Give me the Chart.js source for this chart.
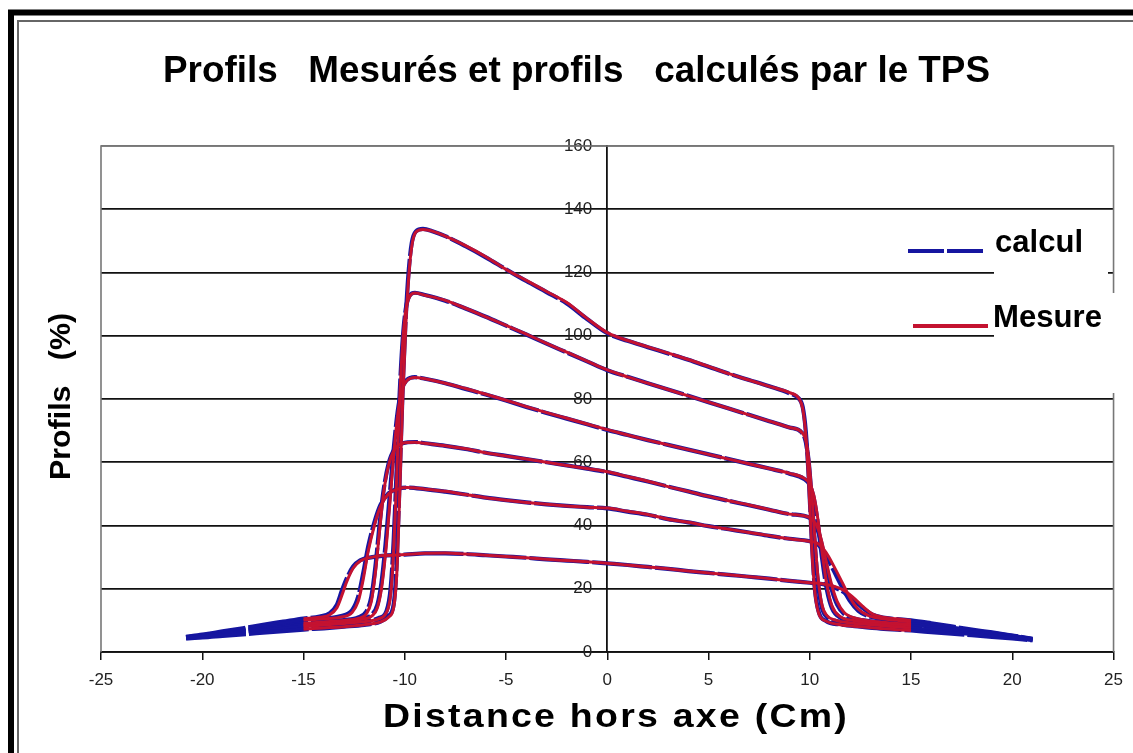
<!DOCTYPE html>
<html lang="fr">
<head>
<meta charset="utf-8">
<title>Profils mesurés et profils calculés par le TPS</title>
<script src="https://cdn.jsdelivr.net/npm/chart.js@4.4.1/dist/chart.umd.min.js"></script>
<style>
  html, body { margin: 0; padding: 0; background: #fff; }
  canvas { display: block; }
</style>
</head>
<body>
<canvas id="chart" width="1133" height="753"></canvas>
<script>
// Profils de dose (%) en fonction de la distance hors axe (cm), six profondeurs.
// Chaque point : [distance hors axe, profil].

// --- Mesures ---
const mesure1 = [[-15,7.2],[-14,7.6],[-13,8],[-12,8.6],[-11.2,9.5],[-10.8,11],[-10.55,14],[-10.4,24],[-10.25,50],[-10.1,80],[-9.95,103],[-9.8,119],[-9.65,128.5],[-9.45,132.8],[-9.1,133.6],[-8.6,133],[-8,131.5],[-7,128.5],[-6,125],[-5,121],[-4,117.5],[-3,114],[-2,110.5],[-1,105.5],[0,101],[1,98.5],[2,96.5],[3,94.5],[4,92.5],[5,90.3],[6,88],[7,86],[8,84],[9,82],[9.45,80.3],[9.65,77],[9.8,69],[9.95,53],[10.1,33],[10.25,19],[10.45,12],[10.8,9.8],[11.5,8.6],[12.5,8],[13.5,7.4],[15,6.8]];
const mesure2 = [[-15,8],[-14,8.5],[-13,9],[-12,9.6],[-11.3,10.5],[-10.9,12.5],[-10.7,18],[-10.55,32],[-10.4,55],[-10.25,80],[-10.1,98],[-9.95,108],[-9.75,112.5],[-9.5,113.5],[-9,112.8],[-8,111.2],[-7,108.7],[-6,106],[-5,103.3],[-4,100.5],[-3,97.6],[-2,94.8],[-1,92],[0,89.2],[1,87],[2,85],[3,83],[4,81],[5,79],[6,77],[7,75],[8,73],[9,71],[9.6,69.5],[9.8,67],[9.95,61],[10.1,50],[10.25,36],[10.4,24],[10.6,15],[10.85,11.5],[11.3,10],[12,9.2],[13,8.6],[14,8.1],[15,7.6]];
const mesure3 = [[-15,8.5],[-14,9],[-13,9.6],[-12.2,10.3],[-11.6,11.5],[-11.35,14],[-11.15,20],[-10.95,31],[-10.75,46],[-10.55,62],[-10.35,75],[-10.15,82.5],[-9.9,85.8],[-9.5,86.8],[-9,86.4],[-8,85],[-7,83.3],[-6,81.5],[-5,79.6],[-4,77.6],[-3,75.7],[-2,73.9],[-1,72.1],[0,70.3],[1,68.6],[2,67],[3,65.5],[4,64],[5,62.5],[6,61],[7,59.5],[8,58],[9,56.5],[9.7,55],[10,53.2],[10.2,49.5],[10.4,42],[10.6,32],[10.85,21],[11.1,14.5],[11.5,11.2],[12.2,9.9],[13,9.2],[14,8.7],[15,8.3]];
const mesure4 = [[-15,9],[-14,9.5],[-13,10],[-12.3,10.6],[-11.9,12],[-11.65,16],[-11.45,25],[-11.25,38],[-11.05,50],[-10.8,59],[-10.5,64],[-10.1,66],[-9.5,66.3],[-9,66],[-8,65.2],[-7,64.3],[-6,63],[-5,62],[-4,61],[-3,60],[-2,59],[-1,58],[0,57],[1,55.5],[2,54],[3,52.3],[4,50.8],[5,49.2],[6,47.8],[7,46.5],[8,45],[9,43.6],[10,42.5],[10.3,40.5],[10.55,36],[10.8,29],[11.05,22],[11.35,16],[11.7,12.5],[12.3,10.6],[13,9.8],[14,9.2],[15,8.8]];
const mesure5 = [[-15,10],[-14,10.5],[-13.2,11],[-12.6,12.5],[-12.3,16],[-12.05,23],[-11.8,32],[-11.5,40],[-11.2,46],[-10.8,50],[-10.3,51.6],[-9.9,52],[-9,51.5],[-8,50.8],[-7,49.8],[-6,48.8],[-5,48],[-4,47.3],[-3,46.7],[-2,46.2],[-1,45.8],[0,45.5],[1,44.5],[2,43.5],[3,42],[4,41],[5,39.8],[6,38.8],[7,37.8],[8,36.8],[9,35.8],[10,35],[10.4,34.3],[10.8,31.5],[11.2,27],[11.6,22],[12,17],[12.4,13.5],[12.9,11.5],[13.6,10.5],[14.3,10],[15,9.5]];
const mesure6 = [[-15,10.5],[-14.2,11],[-13.7,11.8],[-13.35,14],[-13.1,18],[-12.85,22.5],[-12.55,26.5],[-12.2,28.8],[-11.6,30],[-11,30.5],[-10,30.8],[-9,31.2],[-8,31.3],[-7,31],[-6,30.6],[-5,30.2],[-4,29.8],[-3,29.3],[-2,28.9],[-1,28.5],[0,28.1],[1,27.5],[2,26.9],[3,26.3],[4,25.6],[5,25],[6,24.4],[7,23.8],[8,23.2],[9,22.5],[10,21.9],[10.6,21.6],[11.1,21],[11.6,19.8],[12.1,17.5],[12.6,14.5],[13.1,12],[13.6,11],[14.3,10.5],[15,10]];

// --- Calculs du TPS ---
const calcul1 = [[-20.8,4.3],[-20,4.6],[-19,5.1],[-18,5.6],[-17,6.1],[-16,6.6],[-15,7.1],[-14,7.5],[-13,8],[-12,8.6],[-11.2,9.6],[-10.8,11.5],[-10.55,15],[-10.4,28],[-10.25,55],[-10.1,84],[-9.95,106],[-9.8,121],[-9.65,129.5],[-9.45,133],[-9.1,133.8],[-8.6,133],[-8,131.5],[-7,128.3],[-6,124.8],[-5,121],[-4,117.3],[-3,113.8],[-2,110.2],[-1,105.3],[0,100.8],[1,98.4],[2,96.4],[3,94.4],[4,92.4],[5,90.2],[6,88],[7,86],[8,84],[9,81.8],[9.45,80.2],[9.65,77.5],[9.8,70],[9.95,55],[10.1,35],[10.25,20],[10.45,12.5],[10.8,9.8],[11.5,8.7],[12.5,8],[13.5,7.4],[15,6.8],[16,6.3],[17,5.8],[18,5.3],[19,4.8],[20,4.3],[21,3.7]];
const calcul2 = [[-20.8,4.4],[-20,4.8],[-19,5.4],[-18,6],[-17,6.7],[-16,7.3],[-15,8],[-14,8.5],[-13,9],[-12,9.7],[-11.3,10.7],[-10.9,13],[-10.7,20],[-10.55,35],[-10.4,58],[-10.25,82],[-10.1,99],[-9.95,108.5],[-9.75,112.8],[-9.5,113.6],[-9,112.9],[-8,111.1],[-7,108.6],[-6,106],[-5,103.2],[-4,100.4],[-3,97.5],[-2,94.7],[-1,91.9],[0,89.1],[1,87],[2,85],[3,83],[4,81],[5,79],[6,77],[7,75],[8,73],[9,71],[9.6,69.4],[9.8,66.5],[9.95,60],[10.1,48],[10.25,34],[10.4,22],[10.6,14],[10.85,11],[11.3,9.8],[12,9.1],[13,8.5],[14,8],[15,7.5],[16,6.9],[17,6.3],[18,5.7],[19,5.1],[20,4.5],[21,3.8]];
const calcul3 = [[-20.8,4.5],[-20,5],[-19,5.7],[-18,6.4],[-17,7.1],[-16,7.8],[-15,8.5],[-14,9],[-13,9.7],[-12.2,10.5],[-11.6,12],[-11.35,15],[-11.15,22],[-10.95,34],[-10.75,49],[-10.55,64],[-10.35,76],[-10.15,83],[-9.9,86],[-9.5,86.9],[-9,86.4],[-8,85],[-7,83.2],[-6,81.4],[-5,79.5],[-4,77.5],[-3,75.6],[-2,73.8],[-1,72],[0,70.2],[1,68.6],[2,67],[3,65.5],[4,64],[5,62.5],[6,61],[7,59.5],[8,58],[9,56.4],[9.7,54.8],[10,52.8],[10.2,48.5],[10.4,40.5],[10.6,30],[10.85,19.5],[11.1,13.8],[11.5,10.9],[12.2,9.8],[13,9.1],[14,8.6],[15,8.2],[16,7.5],[17,6.8],[18,6.1],[19,5.4],[20,4.7],[21,3.9]];
const calcul4 = [[-20.8,4.6],[-20,5.1],[-19,5.9],[-18,6.7],[-17,7.5],[-16,8.2],[-15,9],[-14,9.5],[-13,10.1],[-12.3,10.9],[-11.9,12.8],[-11.65,17.5],[-11.45,27],[-11.25,40],[-11.05,51],[-10.8,59.5],[-10.5,64.2],[-10.1,66],[-9.5,66.4],[-9,66],[-8,65.2],[-7,64.2],[-6,63],[-5,62],[-4,61],[-3,60],[-2,59],[-1,58],[0,56.9],[1,55.4],[2,53.9],[3,52.3],[4,50.8],[5,49.2],[6,47.8],[7,46.4],[8,45],[9,43.6],[10,42.4],[10.3,40],[10.55,35],[10.8,27.5],[11.05,20.5],[11.35,15],[11.7,12],[12.3,10.4],[13,9.7],[14,9.1],[15,8.8],[16,8],[17,7.2],[18,6.5],[19,5.7],[20,4.9],[21,4]];
const calcul5 = [[-20.8,4.7],[-20,5.3],[-19,6.2],[-18,7.1],[-17,8],[-16,9],[-15,10],[-14,10.6],[-13.2,11.3],[-12.6,13.2],[-12.3,17.5],[-12.05,25],[-11.8,33.5],[-11.5,41],[-11.2,46.5],[-10.8,50.2],[-10.3,51.7],[-9.9,52],[-9,51.5],[-8,50.7],[-7,49.8],[-6,48.8],[-5,48],[-4,47.3],[-3,46.7],[-2,46.2],[-1,45.8],[0,45.4],[1,44.4],[2,43.4],[3,42],[4,41],[5,39.8],[6,38.8],[7,37.8],[8,36.7],[9,35.8],[10,35],[10.4,34],[10.8,30.5],[11.2,25.5],[11.6,20.5],[12,16],[12.4,13],[12.9,11.3],[13.6,10.4],[14.3,9.9],[15,9.5],[16,8.6],[17,7.7],[18,6.8],[19,6],[20,5.1],[21,4.1]];
const calcul6 = [[-20.8,4.8],[-20,5.5],[-19,6.5],[-18,7.5],[-17,8.6],[-16,9.6],[-15,10.6],[-14.2,11.2],[-13.7,12.3],[-13.35,15],[-13.1,19.5],[-12.85,23.5],[-12.55,27],[-12.2,29],[-11.6,30],[-11,30.5],[-10,30.8],[-9,31.2],[-8,31.2],[-7,31],[-6,30.6],[-5,30.2],[-4,29.8],[-3,29.3],[-2,28.9],[-1,28.5],[0,28],[1,27.5],[2,26.9],[3,26.3],[4,25.6],[5,25],[6,24.4],[7,23.8],[8,23.2],[9,22.5],[10,21.9],[10.6,21.5],[11.1,20.7],[11.6,19.2],[12.1,16.8],[12.6,14],[13.1,11.8],[13.6,10.9],[14.3,10.4],[15,10],[16,9.1],[17,8.1],[18,7.1],[19,6.2],[20,5.2],[21,4.2]];

// --- Axes ---
const xTickValues = [-25, -20, -15, -10, -5, 0, 5, 10, 15, 20, 25];
const yTickValues = [0, 20, 40, 60, 80, 100, 120, 140, 160];
const legendLabels = ['calcul', 'Mesure'];

const colCalcul = '#1616a0';
const colMesure = '#c41230';
const FONT = "'Liberation Sans', Arial, Helvetica, sans-serif";

const mesures = [mesure1, mesure2, mesure3, mesure4, mesure5, mesure6];
const calculs = [calcul1, calcul2, calcul3, calcul4, calcul5, calcul6];

const datasets = [];
calculs.forEach((d, i) => datasets.push({
  label: 'calcul ' + (i + 1), data: d, borderColor: colCalcul, borderWidth: 4.2,
  borderDash: [60, 3], pointRadius: 0, order: 2, cubicInterpolationMode: 'monotone'
}));
mesures.forEach((d, i) => datasets.push({
  label: 'Mesure ' + (i + 1), data: d, borderColor: colMesure, borderWidth: 3,
  pointRadius: 0, order: 1, cubicInterpolationMode: 'monotone'
}));

// Horizontal-fit text helper (the chart text is narrow)
function fitText(ctx, text, x, y, width, font, align, spacing) {
  ctx.save();
  ctx.font = font;
  if (spacing && 'letterSpacing' in ctx) ctx.letterSpacing = spacing;
  const w = ctx.measureText(text).width;
  ctx.translate(x, y);
  ctx.scale(width / w, 1);
  ctx.textAlign = align;
  ctx.textBaseline = 'alphabetic';
  ctx.fillStyle = '#000';
  ctx.fillText(text, 0, 0);
  ctx.restore();
}

const decor = {
  id: 'decor',
  beforeDraw(chart) {
    const ctx = chart.ctx;
    // y labels sit a little left of the centred axis
    const items = chart.scales.y.getLabelItems(chart.chartArea);
    if (!items._moved) {
      items.forEach(it => { it.options.translation[0] -= 15; });
      items._moved = true;
    }
    ctx.save();
    ctx.fillStyle = '#fff';
    ctx.fillRect(0, 0, chart.width, chart.height);
    ctx.strokeStyle = '#000';
    ctx.lineWidth = 6;
    ctx.strokeRect(11, 12.5, chart.width + 40, chart.height + 40);
    ctx.strokeStyle = '#666';
    ctx.lineWidth = 2;
    ctx.strokeRect(18, 21, chart.width + 40, chart.height + 40);
    ctx.restore();
  },
  beforeDatasetsDraw(chart) {
    const { ctx, chartArea: a } = chart;
    ctx.save();
    ctx.strokeStyle = '#777';
    ctx.lineWidth = 1.6;
    ctx.beginPath();
    ctx.moveTo(a.left, a.bottom); ctx.lineTo(a.left, a.top);
    ctx.lineTo(a.right, a.top); ctx.lineTo(a.right, a.bottom);
    ctx.stroke();
    ctx.restore();
  },
  afterDatasetsDraw(chart) {
    const ctx = chart.ctx;
    ctx.save();
    // legend panel
    ctx.fillStyle = '#fff';
    ctx.fillRect(994, 222, 114, 72);
    ctx.fillRect(994, 293, 139, 100);
    // legend samples
    ctx.lineWidth = 4;
    ctx.strokeStyle = colCalcul;
    ctx.setLineDash([36, 3]);
    ctx.beginPath(); ctx.moveTo(908, 251); ctx.lineTo(984, 251); ctx.stroke();
    ctx.setLineDash([]);
    ctx.strokeStyle = colMesure;
    ctx.beginPath(); ctx.moveTo(913, 326); ctx.lineTo(988, 326); ctx.stroke();
    ctx.restore();
    fitText(ctx, legendLabels[0], 995, 252, 88, 'bold 32px ' + FONT, 'left');
    fitText(ctx, legendLabels[1], 993, 327, 109, 'bold 31px ' + FONT, 'left');
  },
  afterDraw(chart) {
    const ctx = chart.ctx;
    fitText(ctx, 'Profils   Mesurés et profils   calculés par le TPS', 576.5, 82, 827, 'bold 36px ' + FONT, 'center');
    fitText(ctx, 'Distance hors axe (Cm)', 616, 727, 466, 'bold 33px ' + FONT, 'center', '2px');
    ctx.save();
    ctx.translate(70, 396.5);
    ctx.rotate(-Math.PI / 2);
    fitText(ctx, 'Profils   (%)', 0, 0, 167, 'bold 30px ' + FONT, 'center');
    ctx.restore();
  }
};

new Chart(document.getElementById('chart'), {
  type: 'line',
  data: { datasets },
  options: {
    responsive: false,
    devicePixelRatio: 1,
    animation: false,
    layout: { padding: { left: 101, top: 146, right: 16, bottom: 0 } },
    plugins: { legend: { display: false }, title: { display: false }, tooltip: { enabled: false } },
    elements: { line: { tension: 0 } },
    scales: {
      x: {
        type: 'linear', position: 'bottom', min: -25, max: 25,
        afterBuildTicks: s => { s.ticks = xTickValues.map(v => ({ value: v })); },
        afterFit: s => { s.height = 101; },
        ticks: { font: { family: FONT, size: 17 }, color: '#222', padding: 10, maxRotation: 0, autoSkip: false },
        grid: { drawOnChartArea: false, drawTicks: true, tickLength: 8, color: '#111', lineWidth: 1.5 },
        border: { color: '#111', width: 1.8 }
      },
      y: {
        type: 'linear', position: { x: 0 }, min: 0, max: 160,
        afterBuildTicks: s => { s.ticks = yTickValues.map(v => ({ value: v })); },
        ticks: { font: { family: FONT, size: 17 }, color: '#222', padding: 16, autoSkip: false },
        grid: { drawTicks: false, color: c => (c.tick && c.tick.value === 160 ? '#777' : '#111'), lineWidth: 1.8 },
        border: { color: '#111', width: 1.8 }
      }
    }
  },
  plugins: [decor]
});
</script>
</body>
</html>
